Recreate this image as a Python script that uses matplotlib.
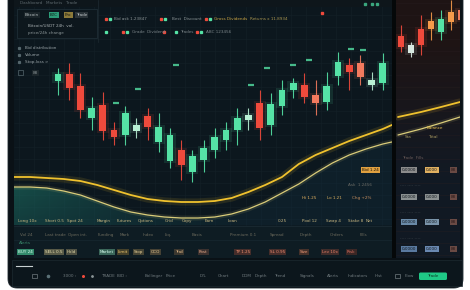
import numpy as np
import pandas as pd
import matplotlib
matplotlib.use('Agg')
import matplotlib.pyplot as plt
from matplotlib.patches import FancyBboxPatch, Rectangle

plt.rcParams['font.family'] = 'DejaVu Sans'

# Основной график: свечи (индекс бара, цены)
bar_open  = [219, 226, 214, 182, 195, 170, 165, 169, 184, 158, 139, 150, 128, 140, 150,
             160, 170, 180, 197, 175, 194, 210, 215, 205, 198, 224, 235, 237, 215, 217]
bar_high  = [232, 237, 227, 203, 208, 178, 194, 182, 192, 187, 172, 160, 150, 160, 172,
             178, 192, 192, 210, 207, 220, 222, 227, 220, 228, 248, 242, 245, 228, 247]
bar_low   = [205, 200, 182, 170, 160, 155, 155, 162, 160, 148, 132, 120, 118, 128, 142,
             150, 155, 170, 160, 165, 185, 202, 197, 185, 190, 215, 210, 215, 210, 210]
bar_close = [226, 212, 190, 192, 169, 163, 187, 175, 173, 173, 165, 135, 144, 152, 163,
             170, 182, 185, 172, 196, 210, 217, 203, 197, 214, 238, 228, 223, 220, 237]

# Правая панель: свечи
side_open  = [264, 247, 271, 279, 268, 288, 290]
side_high  = [275, 258, 285, 288, 290, 300, 296]
side_low   = [248, 243, 245, 260, 260, 270, 276]
side_close = [253, 255, 255, 271, 281, 278, 280]

# Скользящие кривые
ma_idx = [-4, -2.5, -1, 0.5, 2, 3.5, 5, 6.5, 8, 9.5, 11, 12.5, 14, 15.5, 17, 18.5,
          20, 21.5, 23, 24.5, 26, 27.5, 29, 29.8]
ma_fast = [123, 123, 122, 121, 119, 115, 110, 105, 101, 99, 98, 98, 99, 102, 108, 115,
           123, 136, 145, 152, 159, 165, 171, 175]
ma_slow = [113, 113, 112, 109, 105, 99, 93, 88, 85, 83, 82, 82, 83, 86, 91, 98,
           107, 116, 127, 137, 145, 151, 156, 158]
side_ma_idx = [-0.3, 2.0, 4.0, 5.9]
side_ma_fast = [183, 188, 193, 198]
side_ma_slow = [165, 171, 177, 183]

# Маркеры ордеров
order_idx = [5.2, 7.1, 10.5, 18.7, 21.0, 22.4, 26.2, 27.2, 17.2]
order_px = [197, 211, 235, 232, 235, 240, 251, 250, 215]

bars = pd.DataFrame({'open': bar_open, 'high': bar_high, 'low': bar_low, 'close': bar_close})
side = pd.DataFrame({'open': side_open, 'high': side_high, 'low': side_low, 'close': side_close})

GREEN = '#55e3a6'
RED = '#ef4a3c'
SALMON = '#f27a5e'
PALE = '#b8f0d4'
YEL = '#f0c22e'
YEL2 = '#d9cc7a'

color_override = {7: PALE, 17: PALE, 23: SALMON, 27: SALMON, 28: PALE}
side_override = {1: '#d8e8e0', 3: '#f59a4a', 5: '#f59a4a', 6: '#f07a5a'}

fig = plt.figure(figsize=(4.7, 2.9), dpi=100, facecolor='white')

# Фон / рамка (в пикселях)
bg = fig.add_axes([0, 0, 1, 1])
bg.set_xlim(0, 470)
bg.set_ylim(290, 0)
bg.axis('off')
bg.add_patch(FancyBboxPatch((8, -20), 455, 308, boxstyle='round,pad=0,rounding_size=9',
                            fc='#0a1116', ec='#1b262c', lw=0.6))
bg.add_patch(Rectangle((12, 260), 450, 26, fc='#0c161c', ec='#1d2a31', lw=0.5))


def fx(px):
    return px / 470


def fy(py_top, h):
    return (290 - py_top - h) / 290


def draw_candles(axis, df, overrides, width, glow=True):
    for i, r in df.iterrows():
        up = r['close'] >= r['open']
        c = overrides.get(i, GREEN if up else RED)
        axis.vlines(i, r['low'], r['high'], color=c, lw=0.8, alpha=0.9, zorder=4)
        lo = min(r['open'], r['close'])
        h = abs(r['close'] - r['open'])
        if glow:
            axis.bar(i, h + 4, width=width * 1.8, bottom=lo - 2, color=c, alpha=0.12,
                     zorder=3, linewidth=0)
        axis.bar(i, h, width=width, bottom=lo, color=c, zorder=5, linewidth=0)


def draw_curve(axis, xs, ys, color, lw):
    axis.plot(xs, ys, color=color, lw=lw * 4, alpha=0.12, zorder=6, solid_capstyle='round')
    axis.plot(xs, ys, color=color, lw=lw, zorder=7, solid_capstyle='round')


# Основная область графика
ax = fig.add_axes([fx(14), fy(0, 258), fx(378), 258 / 290])
ax.set_facecolor('#0c171e')
ax.set_xlim(-3.93, 29.82)
ax.set_ylim(42, 300)
for g in np.arange(-3.5, 30, 1.35):
    ax.axvline(g, color='#142027', lw=0.4, zorder=1)
for g in np.arange(45, 300, 12):
    ax.axhline(g, color='#142027', lw=0.4, zorder=1)
for s in ax.spines.values():
    s.set_visible(False)
ax.set_xticks([])
ax.set_yticks([])

# Заливка под медленной кривой (градиент)
poly = ax.fill_between(ma_idx, ma_slow, 75, facecolor='none', lw=0)
grad = np.zeros((10, 200, 4))
grad[..., 0] = 0.13
grad[..., 1] = 0.55
grad[..., 2] = 0.45
alpha = np.linspace(0.55, 0.0, 200) ** 1.3
grad[..., 3] = alpha[None, :] * np.linspace(0.6, 1, 10)[:, None]
im = ax.imshow(grad, extent=[-3.93, 18, 75, 125], origin='lower', aspect='auto', zorder=2)
im.set_clip_path(poly.get_paths()[0], transform=ax.transData)
ax.fill_between(ma_idx, ma_slow, 75, color='#123040', alpha=0.35, lw=0, zorder=1.5)

# Нижняя панель в основной области
ax.axhspan(42, 74, color='#0e1c23', zorder=2.5)
ax.axhline(74, color='#1a2a32', lw=0.6, zorder=2.6)
ax.axhline(60, color='#172830', lw=0.5, zorder=2.6)

draw_candles(ax, bars, color_override, 0.6)
ax.scatter(order_idx, order_px, marker='_', s=14, color=GREEN, lw=1.6, zorder=5, alpha=0.8)

draw_curve(ax, ma_idx, ma_slow, YEL2, 0.9)
draw_curve(ax, ma_idx, ma_fast, YEL, 1.3)

# Правая панель
rx = fig.add_axes([fx(396), fy(0, 258), fx(64), 258 / 290])
rx.set_xlim(-0.5, 5.9)
rx.set_ylim(42, 300)
side_bg = np.zeros((60, 2, 3))
top = np.array([0.12, 0.08, 0.08])
bot = np.array([0.07, 0.10, 0.14])
t = np.clip(np.linspace(-0.6, 1.3, 60), 0, 1)[:, None]
side_bg[:, 0, :] = top * t + bot * (1 - t)
side_bg[:, 1, :] = side_bg[:, 0, :]
rx.imshow(side_bg, extent=[-0.5, 5.9, 42, 300], origin='lower', aspect='auto', zorder=0)
for g in np.arange(45, 300, 12):
    rx.axhline(g, color='#2a2022', lw=0.4, zorder=1, alpha=0.6)
for s in rx.spines.values():
    s.set_visible(False)
rx.set_xticks([])
rx.set_yticks([])
draw_candles(rx, side, side_override, 0.65)
draw_curve(rx, side_ma_idx, side_ma_slow, YEL2, 0.9)
draw_curve(rx, side_ma_idx, side_ma_fast, YEL, 1.3)

# Верхний слой для текста интерфейса
ov = fig.add_axes([0, 0, 1, 1])
ov.set_xlim(0, 470)
ov.set_ylim(290, 0)
ov.axis('off')
ov.patch.set_alpha(0)
ov.add_patch(Rectangle((392, 0), 4, 258, fc='#050809', zorder=3))

FS = 3.0


def label(x, y, s, c='#9aa4a8', fc=None, fs=FS, ha='left', a=1.0):
    kw = {}
    if fc:
        kw['bbox'] = dict(boxstyle='square,pad=0.25', fc=fc, ec='none', alpha=a)
    ov.text(x, y, s, color=c, fontsize=fs, va='center', ha=ha, zorder=10, **kw)


ov.add_patch(Rectangle((14, 0), 378, 7, fc='#0e161b', zorder=2))
label(20, 3, 'Dashboard   Markets   Trade', '#5d686d')
ov.add_patch(Rectangle((17, 9), 80, 29, fc='#0d171d', ec='#22323a', lw=0.5, zorder=2))
ov.plot([98, 98], [0, 42], color='#1e2b32', lw=0.5, zorder=2)
label(25, 15, 'Bitcoin', '#b8c0c2', '#1a2429')
label(50, 15, 'BTC', '#0c1a14', '#2c9c78')
label(65, 15, 'Pro', '#1a1a10', '#8c7a3a')
label(76, 15, 'Trade', '#c0c6c8', '#2a3338')
label(28, 26, 'Bitcoin/USDT 24h  vol.', '#a8b0b2')
label(28, 33, 'price/24h change', '#8a9496')
for yy, s in [(48, 'Bid distribution'), (55, 'Volume'), (62, 'Stop-loss >')]:
    ov.plot(19, yy, 's', ms=1.3, color='#55666c', zorder=10)
    label(25, yy, s, '#9aa4a8')
ov.add_patch(Rectangle((18, 70), 5, 5, fc='none', ec='#55666c', lw=0.5, zorder=10))
label(33, 73, '88', '#8a9496', '#1c262b')

# Заголовок: строки тикеров
for x, c in [(106, RED), (110, GREEN), (161, RED), (165, GREEN), (206, RED), (210, GREEN)]:
    ov.plot(x, 19, 's', ms=1.4, color=c, zorder=10)
label(114, 19, 'Bid ask 1.23847', '#8a9496')
label(172, 19, 'Best  Discount', '#8a9496')
label(214, 19, 'Gross Dividends', '#c9a444')
label(250, 19, 'Returns x 11.8934', '#a89550')
for x, c in [(106, GREEN), (123, RED), (127, GREEN), (164, RED), (176, GREEN), (197, RED), (201, GREEN)]:
    ov.plot(x, 32, 's', ms=1.4, color=c, zorder=10)
label(132, 32, 'Grade  Dividend', '#7a8488')
label(180, 32, 'Trades', '#7a8488')
label(206, 32, 'ABC 123456', '#7a8488')
for x in [365, 372, 377]:
    ov.plot(x, 4, 's', ms=1.5, color='#3aa67e', zorder=10)
ov.plot(322, 13, 's', ms=1.8, color=RED, zorder=10)

# Подписи в нижней части графика
row1 = [(18, 'Long 10x'), (45, 'Short 0.5'), (67, 'Spot 24'), (97, 'Margin'), (117, 'Futures'),
        (138, 'Options'), (165, 'Grid'), (182, 'Copy'), (205, 'Earn'), (228, 'Loan'),
        (278, '0.25'), (302, 'Pool 12'), (326, 'Swap 4'), (348, 'Stake 8'), (366, 'Net')]
for x, s in row1:
    label(x, 221, s, '#c8b680')
row2 = [(20, 'Vol 24'), (45, 'Last trade'), (68, 'Open int.'), (98, 'Funding'), (120, 'Mark'),
        (143, 'Index'), (165, 'Liq.'), (192, 'Basis'), (230, 'Premium 0.1'), (270, 'Spread'),
        (300, 'Depth'), (330, 'Orders'), (360, 'Fills')]
for x, s in row2:
    label(x, 235, s, '#6c6a5c')
label(19, 243, 'Alerts', '#3a8a6c')
row3 = [(18, 'BUY 24', '#dafff0', '#4fd69e'), (45, 'SELL 0.5', '#e8e0b0', '#8a8460'),
        (67, 'Hold', '#e0d8a8', '#7a7458'), (100, 'Market', '#d8fff0', '#5a9a80'),
        (118, 'Limit', '#f0c870', '#6a5a30'), (134, 'Stop', '#e8d098', '#6a6040'),
        (151, 'OCO', '#e8c890', '#6a5a40'), (175, 'Trail', '#e0b888', '#5a4a38'),
        (199, 'Post', '#e8a888', '#5a4038'), (235, 'TP 1.25', '#f09070', '#6a3a30'),
        (270, 'SL 0.95', '#f08a70', '#6a3a30'), (300, 'Size', '#f09a78', '#6a4030'),
        (322, 'Lev 10x', '#e88068', '#603830'), (347, 'Risk', '#d87060', '#5a3028')]
for x, s, c, fc in row3:
    label(x, 252, s, c, fc, a=0.6)
label(362, 170, 'Bid 1.24', '#1a1408', '#e0a040')
label(348, 185, 'Ask  1.2456', '#6a6a64')
label(302, 198, 'Hi 1.25', '#e0b060')
label(327, 198, 'Lo 1.21', '#d8b060')
label(352, 198, 'Chg +2%', '#c89060')

# Правая панель: строки
label(427, 128, 'Balance', '#e8c050')
label(405, 137, 'Sta', '#a89a60')
label(428, 137, 'Total', '#a89a60')
side_rows = [(170, '#8c8c8c', '#e0b060'), (197, '#8a9090', '#8a9090'),
             (222, '#6a8aa8', '#7a94aa'), (249, '#5a7aa0', '#6a88b0')]
for yy, c1, c2 in side_rows:
    label(402, yy, '0,0000', '#10161c', c1)
    label(426, yy, '0,000', '#10161c', c2)
    label(451, yy, '88', '#2a1818', '#6a4a44')
for yy in [185, 212, 238]:
    label(400, yy, '---- ---- ----', '#4a5256')
label(402, 158, 'Trade  Fills', '#6a5a58')

# Панель инструментов внизу
ov.plot([16, 32], [266, 266], color='#c8d0d2', lw=0.8, zorder=10)
tools = [(63, '3000 ›'), (101, 'TRADE'), (117, 'BID ›'),
         (145, 'Bollinger'), (166, 'Price'), (200, 'D/L'), (218, 'Chart'),
         (242, 'DOM'), (255, 'Depth'), (274, 'Trend'), (300, 'Signals'), (327, 'Alerts'),
         (348, 'Indicators'), (375, 'Hist'), (405, 'Flow')]
for x, s in tools:
    label(x, 276, s, '#707a7e', fs=3.0)
ov.add_patch(Rectangle((32, 274), 5, 4, fc='none', ec='#707a7e', lw=0.5, zorder=10))
ov.add_patch(Rectangle((395, 274), 5, 4, fc='none', ec='#707a7e', lw=0.5, zorder=10))
ov.plot(48, 276, 'o', ms=1.6, color='#5a7076', zorder=10)
ov.plot(83, 276, 'o', ms=1.2, color=RED, zorder=10)
ov.plot(92, 276, 'o', ms=1.0, color='#8a9496', zorder=10)
ov.add_patch(FancyBboxPatch((419, 272.5), 28, 7.5, boxstyle='round,pad=0,rounding_size=1.5',
                            fc='#1fc986', ec='none', zorder=10))
label(433, 276, 'Trade', '#0d3a28', fs=3.0, ha='center')

plt.savefig('out.png', dpi=100, facecolor='white')
plt.close()
